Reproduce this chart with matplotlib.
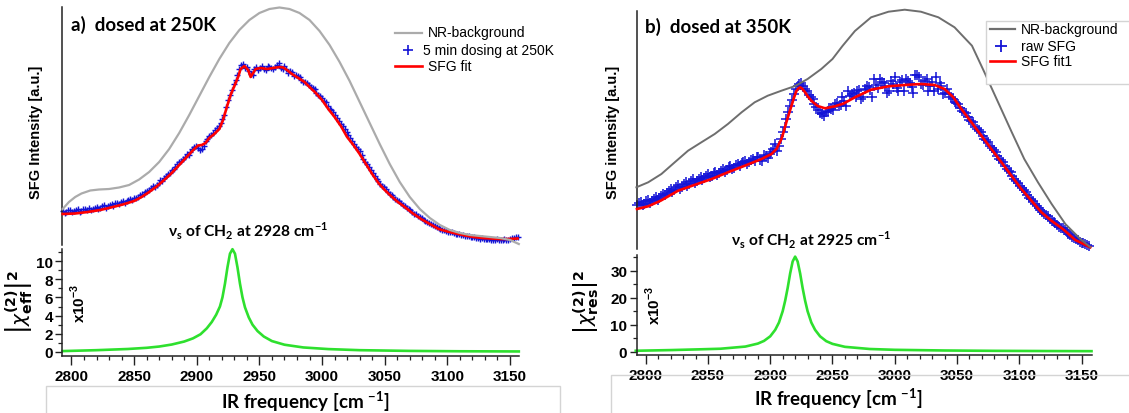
import numpy as np
import matplotlib
matplotlib.use("Agg")
import matplotlib.pyplot as plt
from matplotlib.lines import Line2D
from matplotlib.patches import Rectangle
from matplotlib.ticker import MultipleLocator

# ---------------- data ----------------
# panel a) dosed at 250K  (top: intensity in arbitrary units)
a_bg_x = [2793, 2798, 2803, 2808, 2815, 2822, 2830, 2838, 2846, 2854, 2862, 2870, 2878, 2886,
          2894, 2902, 2910, 2918, 2926, 2934, 2942, 2950, 2958, 2966, 2974, 2982, 2990, 2998,
          3006, 3014, 3022, 3030, 3038, 3046, 3054, 3062, 3070, 3078, 3086, 3094, 3102, 3110,
          3118, 3126, 3134, 3142, 3150, 3157]
a_bg_y = [36, 43, 48, 51.5, 54.5, 55.5, 56, 57.5, 60, 65.5, 73, 83, 96, 112,
          130, 149, 168, 186, 202, 215, 225, 232, 236, 237.5, 236, 232, 225, 214,
          200, 183, 164, 143, 122, 101, 81, 63, 48, 36, 27, 20, 15, 12,
          10, 9, 8, 7, 5, 1]

a_fit_x = [2793, 2803, 2813, 2823, 2833, 2841, 2850, 2856, 2862, 2868, 2874, 2880, 2886, 2892,
           2898, 2901, 2904, 2907, 2910, 2914, 2918, 2921, 2924, 2927, 2930, 2933, 2935, 2938,
           2941, 2943, 2945, 2947, 2951, 2956, 2961, 2966, 2969, 2972, 2976, 2981, 2986, 2990,
           2995, 3000, 3005, 3010, 3015, 3020, 3025, 3030, 3035, 3040, 3045, 3050, 3055, 3060,
           3066, 3072, 3079, 3086, 3093, 3100, 3107, 3114, 3121, 3128, 3135, 3142, 3149, 3156]
a_fit_y = [31, 31.5, 33, 35, 38, 40.5, 44, 48, 53, 58.5, 65, 72, 80, 88,
           96, 99.5, 100, 102, 107, 111, 116, 125, 138, 150, 159, 168, 176, 179,
           175, 168, 172, 176, 177, 176, 177, 178, 177.5, 175, 171, 167, 163, 158,
           152, 145, 136, 128, 119, 108, 100, 91, 81, 71, 62, 55, 49, 43.5,
           38, 32, 26, 21, 16, 13.5, 11.5, 9.5, 8, 7, 6.5, 6, 6, 6.5]

# raw spectra: two interleaved scan grids
raw1_start, raw1_stop, raw_step = 2793, 3157, 3
raw2_start, raw2_stop = 2794.5, 3156
a_raw_y = [34, 33, 35, 34, 36, 34, 36, 37, 36, 38,
           37, 40, 39, 41, 42, 41, 44, 44, 46, 47,
           48, 51, 53, 55, 59, 60, 65, 67, 71, 75,
           78, 83, 86, 91, 93, 98, 97, 96, 104, 109,
           112, 117, 122, 130, 145, 155, 165, 176, 181, 178,
           171, 176, 175, 179, 175, 178, 176, 180, 177, 179,
           172, 173, 170, 168, 163, 162, 158, 156, 150, 147,
           143, 136, 133, 127, 121, 116, 110, 104, 98, 94,
           86, 81, 75, 69, 64, 59, 56, 51, 48, 45,
           42, 39, 36, 33, 31, 28, 25, 23, 21, 19,
           17, 15, 14, 13, 12, 11, 10, 9, 9, 8,
           7, 6, 6, 6, 5, 5, 5, 5, 5, 6,
           7, 8]
a_raw_y2 = [32, 35, 33, 35, 33, 36, 35, 35, 37, 36,
            39, 37, 40, 39, 42, 43, 42, 45, 45, 47,
            50, 51, 54, 57, 58, 62, 64, 69, 72, 76,
            81, 84, 88, 90, 96, 99, 95, 99, 106, 110,
            115, 119, 126, 138, 150, 161, 170, 180, 177, 174,
            170, 178, 177, 176, 179, 177, 178, 182, 176, 176,
            174, 169, 169, 165, 163, 160, 157, 152, 149, 144,
            139, 135, 130, 124, 119, 113, 107, 101, 96, 90,
            83, 78, 72, 66, 61, 58, 53, 50, 46, 44,
            40, 37, 35, 31, 29, 27, 24, 22, 20, 18,
            16, 15, 13, 13, 11, 11, 10, 9, 8, 8,
            7, 7, 6, 6, 5, 6, 5, 6, 5, 7,
            8]

a_chi_x = [2793, 2820, 2845, 2860, 2870, 2880, 2890, 2897, 2903, 2908, 2912, 2915.5, 2918.5,
           2920.5, 2922.5, 2924.5, 2926.5, 2928.5, 2930.5, 2932.5, 2934.5, 2936.5, 2938.5,
           2941.5, 2944.5, 2948.5, 2953.5, 2960, 2970, 2985, 3005, 3030, 3070, 3110, 3157]
a_chi_y = [0.1, 0.2, 0.33, 0.46, 0.6, 0.82, 1.15, 1.5, 1.95, 2.6, 3.3, 4.1, 5.0,
           6.0, 7.5, 9.3, 10.8, 11.3, 10.8, 9.3, 7.5, 6.0, 4.9,
           3.8, 3.0, 2.3, 1.7, 1.2, 0.8, 0.5, 0.32, 0.2, 0.12, 0.08, 0.06]

# panel b) dosed at 350K
b_bg_x = [2792.5, 2802, 2812.6, 2823.3, 2834, 2844.7, 2855.4, 2866, 2877, 2887.5, 2898, 2909,
          2920, 2930, 2941, 2950, 2958, 2968, 2981, 2995, 3008, 3021, 3035, 3048, 3062, 3072,
          3083, 3094, 3104, 3115, 3126, 3137, 3149, 3157]
b_bg_y = [61.7, 66.7, 75, 86.7, 98.3, 106.7, 115, 125, 136.7, 146.7, 153.3, 158.3,
          163, 170, 180, 190, 203, 218, 231.7, 237.3, 239.3, 237.3, 231.7, 221.7, 203.3, 176.7,
          146.7, 116.7, 90, 66.7, 45, 25, 10, 2]

b_fit_x = [2793, 2802, 2812, 2826, 2839, 2853, 2866, 2880, 2893, 2901, 2905, 2909, 2911, 2913,
           2915, 2917, 2919, 2921, 2922.5, 2924, 2925.5, 2928, 2930.5, 2933, 2938, 2944, 2952,
           2959, 2968, 2981, 2995, 3008, 3021, 3032, 3040, 3047, 3053.5, 3061.6, 3069.6, 3077.6,
           3085.7, 3093.7, 3101.7, 3109.8, 3117.8, 3125.8, 3135, 3145, 3157]
b_fit_y = [40, 42.7, 48.3, 58.3, 64, 70, 76.7, 83.5, 90, 95, 100, 110, 118, 127,
           135, 143, 151, 158, 160.5, 161.7, 160.5, 156.7, 152, 148.3, 143, 140.7, 142.7,
           145.5, 151.7, 159.3, 162.7, 164, 165, 164, 160, 151.7, 140, 126.7, 113.3, 100,
           86.7, 73.3, 60, 48.3, 36.7, 28.3, 20, 9, 1.7]

b_raw_y = [44, 47, 45, 49, 48, 52, 51, 55, 56, 60,
           59, 64, 62, 67, 65, 70, 68, 72, 71, 75,
           73, 77, 76, 80, 79, 83, 81, 85, 86, 88,
           87, 90, 92, 89, 94, 91, 97, 105, 103, 117,
           130, 143, 155, 163, 166, 160, 154, 150, 142, 136,
           133, 138, 140, 145, 143, 152, 143, 153, 156, 158,
           150, 160, 162, 152, 164, 170, 166, 156, 168, 172,
           158, 169, 170, 166, 156, 174, 165, 168, 158, 167,
           172, 166, 155, 160, 152, 147, 145, 138, 136, 129,
           127, 120, 117, 110, 107, 101, 97, 90, 87, 80,
           77, 70, 66, 61, 57, 51, 48, 43, 39, 35,
           33, 28, 26, 22, 21, 17, 14, 11, 9, 6,
           5, 3]
b_raw_y2 = [46, 44, 48, 46, 50, 49, 53, 54, 58, 57,
            62, 60, 65, 63, 68, 66, 70, 69, 73, 72,
            76, 74, 78, 77, 82, 80, 84, 83, 87, 85,
            89, 88, 92, 88, 93, 95, 100, 98, 110, 122,
            137, 149, 160, 165, 163, 158, 152, 145, 139, 135,
            137, 141, 139, 146, 144, 148, 158, 155, 152, 159,
            152, 163, 159, 170, 161, 167, 163, 158, 165, 161,
            167, 158, 168, 162, 174, 172, 164, 170, 163, 158,
            160, 163, 156, 155, 150, 146, 141, 137, 132, 128,
            122, 119, 113, 109, 103, 99, 93, 89, 83, 78,
            73, 68, 63, 59, 54, 50, 45, 41, 37, 34,
            30, 27, 24, 21, 19, 15, 12, 10, 7, 6,
            4]

b_chi_x = [2792, 2820, 2845, 2860, 2870, 2880, 2890, 2895, 2900, 2904, 2907, 2910, 2912, 2914,
           2916, 2918, 2920, 2922, 2924, 2926, 2928, 2930, 2933, 2936, 2940, 2945, 2950, 2960,
           2980, 3000, 3040, 3080, 3120, 3158]
b_chi_y = [0.35, 0.6, 0.9, 1.1, 1.5, 1.9, 3.0, 4.0, 5.7, 8.1, 10.8, 15.0, 18.9, 23.6,
           29.0, 33.4, 35.2, 33.4, 29.0, 23.6, 18.9, 15.0, 10.8, 8.1, 5.7, 3.9, 2.9, 1.8,
           1.0, 0.7, 0.45, 0.32, 0.25, 0.2]

xticks = [2800, 2850, 2900, 2950, 3000, 3050, 3100, 3150]

# ---------------- styling ----------------
W, H = 1129, 414
fig = plt.figure(figsize=(W / 100, H / 100), dpi=100)
ARIAL = ["Liberation Sans", "DejaVu Sans"]
CALI = ["Lato", "DejaVu Sans"]
plt.rcParams["mathtext.fontset"] = "dejavusans"

def FX(x):
    return x / W

def FY(y):
    return 1 - y / H

def rect(l, t, r, b):
    return [FX(l), FY(b), FX(r) - FX(l), FY(t) - FY(b)]

BLUE = "#1414d6"
RED = "#ff0000"
GREEN = "#2ee02e"

raw_x1 = np.arange(raw1_start, raw1_stop, raw_step)
raw_x2 = np.arange(raw2_start, raw2_stop, raw_step)


def style_top(ax, xlim):
    ax.set_xlim(*xlim)
    ax.set_ylim(0, 238)
    for s in ["top", "right", "bottom"]:
        ax.spines[s].set_visible(False)
    ax.spines["left"].set_linewidth(1.1)
    ax.spines["left"].set_color("#222222")
    ax.set_xticks([])
    ax.set_yticks([])
    ax.patch.set_alpha(0)


def style_bottom(ax, xlim, ylim, ymaj, ymin):
    ax.set_xlim(*xlim)
    ax.set_ylim(*ylim)
    for s in ["top", "right"]:
        ax.spines[s].set_visible(False)
    for s in ["left", "bottom"]:
        ax.spines[s].set_linewidth(1.1)
        ax.spines[s].set_color("#222222")
    ax.set_xticks(xticks)
    ax.xaxis.set_minor_locator(MultipleLocator(10))
    ax.yaxis.set_major_locator(MultipleLocator(ymaj))
    ax.yaxis.set_minor_locator(MultipleLocator(ymin))
    ax.tick_params(axis="x", which="major", direction="out", length=6.5, width=1.0, pad=3,
                   labelsize=11, color="#222222")
    ax.tick_params(axis="x", which="minor", direction="out", length=3.2, width=0.9, color="#222222")
    ax.tick_params(axis="y", which="major", direction="out", length=5.2, width=1.0, pad=1.5,
                   labelsize=11, color="#222222")
    ax.tick_params(axis="y", which="minor", direction="out", length=3.0, width=0.9, color="#222222")
    for lab in ax.get_xticklabels() + ax.get_yticklabels():
        lab.set_fontfamily(ARIAL)
        lab.set_fontweight("bold")
    ax.patch.set_alpha(0)


# ---- panel a ----
axa = fig.add_axes(rect(62.3, 8, 518.8, 246))
style_top(axa, (2792.7, 3157))
axa.plot(raw_x1, a_raw_y, ls="none", marker="+", ms=4.6, mew=1.0, color=BLUE, zorder=2, clip_on=False)
axa.plot(raw_x2, a_raw_y2, ls="none", marker="+", ms=4.6, mew=1.0, color=BLUE, zorder=2, clip_on=False)
axa.plot(a_fit_x, a_fit_y, color=RED, lw=1.9, zorder=3, clip_on=False)
axa.plot(a_bg_x, a_bg_y, color="#ababab", lw=1.6, zorder=4, clip_on=False)

axa2 = fig.add_axes(rect(62.3, 250, 518.8, 357))
style_bottom(axa2, (2792.7, 3157), (-0.44, 11.32), 2, 1)
axa2.plot(a_chi_x, a_chi_y, color=GREEN, lw=1.9, clip_on=False)

# ---- panel b ----
axb = fig.add_axes(rect(636.5, 12, 1091.5, 250))
style_top(axb, (2792.6, 3158))
axb.plot(raw_x1, b_raw_y, ls="none", marker="+", ms=6.5, mew=1.1, color=BLUE, zorder=2, clip_on=False)
axb.plot(raw_x2, b_raw_y2, ls="none", marker="+", ms=6.5, mew=1.1, color=BLUE, zorder=2, clip_on=False)
axb.plot(b_fit_x, b_fit_y, color=RED, lw=1.9, zorder=3, clip_on=False)
axb.plot(b_bg_x, b_bg_y, color="#6e6e6e", lw=1.4, zorder=4, clip_on=False)

axb2 = fig.add_axes(rect(636.5, 256, 1091.5, 356))
style_bottom(axb2, (2792.6, 3158), (-1.22, 35.8), 10, 5)
axb2.plot(b_chi_x, b_chi_y, color=GREEN, lw=1.9, clip_on=False)

# ---------------- texts ----------------
fig.text(FX(71), FY(25), "a)  dosed at 250K", fontsize=13.5, fontweight="bold", family=CALI,
         ha="left", va="center")
fig.text(FX(645.3), FY(26.7), "b)  dosed at 350K", fontsize=13.5, fontweight="bold", family=CALI,
         ha="left", va="center")

fig.text(FX(168.3), FY(231.7), r"ν$_\mathregular{s}$ of CH$_\mathregular{2}$ at 2928 cm$^\mathregular{-1}$",
         fontsize=11.2, fontweight="bold", family=CALI, ha="left", va="center")
fig.text(FX(731.3), FY(240), r"ν$_\mathregular{s}$ of CH$_\mathregular{2}$ at 2925 cm$^\mathregular{-1}$",
         fontsize=11.2, fontweight="bold", family=CALI, ha="left", va="center")

fig.text(FX(35.7), FY(132.7), "SFG Intensity [a.u.]", rotation=90, fontsize=10.5,
         fontweight="bold", family=ARIAL, ha="center", va="center")
fig.text(FX(612.9), FY(132.5), "SFG intensity [a.u.]", rotation=90, fontsize=10.5,
         fontweight="bold", family=ARIAL, ha="center", va="center")

fig.text(FX(18), FY(302), r"$\left|\chi^{\mathbf{(2)}}_{\mathbf{eff}}\right|^{\mathbf{2}}$",
         rotation=90, fontsize=14.5, ha="center", va="center")
fig.text(FX(586), FY(302), r"$\left|\chi^{\mathbf{(2)}}_{\mathbf{res}}\right|^{\mathbf{2}}$",
         rotation=90, fontsize=14.5, ha="center", va="center")

fig.text(FX(78.3), FY(303), r"x10$^\mathregular{-3}$", rotation=90, fontsize=11,
         fontweight="bold", family=ARIAL, ha="center", va="center")
fig.text(FX(653.3), FY(305), r"x10$^\mathregular{-3}$", rotation=90, fontsize=11,
         fontweight="bold", family=ARIAL, ha="center", va="center")

# x-label boxes
fig.patches.append(Rectangle((FX(45.7), FY(416)), FX(560) - FX(45.7), FY(386.7) - FY(416),
                             transform=fig.transFigure, fill=False, ec="#d4d4d4", lw=1.0))
fig.patches.append(Rectangle((FX(611), FY(416)), FX(1131) - FX(611), FY(376) - FY(416),
                             transform=fig.transFigure, fill=False, ec="#d4d4d4", lw=1.0))
fig.text(FX(305), FY(402), r"IR frequency [cm $^\mathregular{-1}$]", fontsize=13.5, fontweight="bold",
         family=CALI, ha="center", va="center")
fig.text(FX(838), FY(399), r"IR frequency [cm $^\mathregular{-1}$]", fontsize=13.5, fontweight="bold",
         family=CALI, ha="center", va="center")

# ---------------- legends ----------------
def leg_line(x1, x2, y, color, lw):
    fig.add_artist(Line2D([FX(x1), FX(x2)], [FY(y), FY(y)], transform=fig.transFigure,
                          color=color, lw=lw, zorder=6))

def leg_marker(x, y, ms, mew):
    fig.add_artist(Line2D([FX(x)], [FY(y)], transform=fig.transFigure, ls="none", marker="+",
                          ms=ms, mew=mew, color=BLUE, zorder=6))

def leg_text(x, y, s):
    fig.text(FX(x), FY(y), s, fontsize=10, family=ARIAL, ha="left", va="center", zorder=6)

# panel a legend (no frame)
leg_line(395, 421.7, 33.5, "#ababab", 1.6)
leg_text(428.3, 33.5, "NR-background")
leg_marker(408.3, 50.5, 6.5, 1.2)
leg_text(423.3, 50.5, "5 min dosing at 250K")
leg_line(395, 421.7, 67, RED, 1.9)
leg_text(428.3, 67, "SFG fit")

# panel b legend (framed)
fig.patches.append(Rectangle((FX(986.3), FY(85)), FX(1131) - FX(986.3), FY(21.7) - FY(85),
                             transform=fig.transFigure, fc="white", ec="#d4d4d4", lw=1.0, zorder=5))
leg_line(989.7, 1014.7, 30, "#6e6e6e", 1.6)
leg_text(1021.3, 30, "NR-background")
leg_marker(1001.3, 46.7, 8, 1.3)
leg_text(1021.3, 46.7, "raw SFG")
leg_line(989.7, 1014.7, 61.7, RED, 1.9)
leg_text(1021.3, 61.7, "SFG fit1")

fig.savefig("out.png", dpi=100)
